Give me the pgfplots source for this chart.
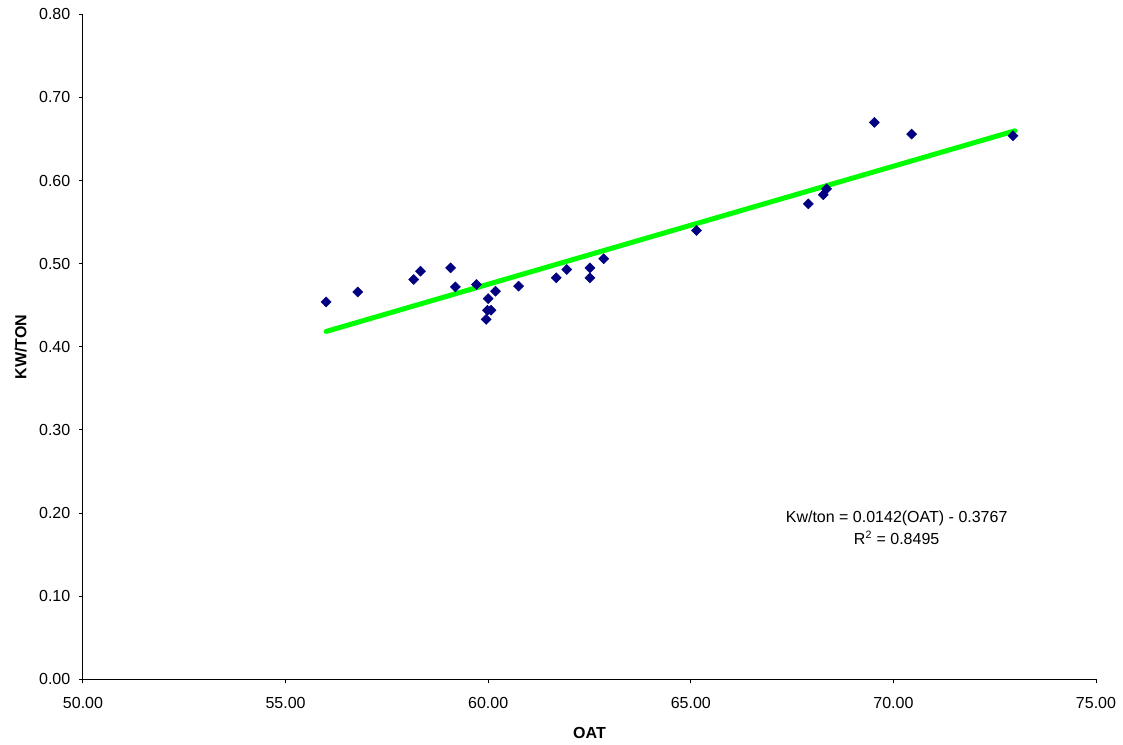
\documentclass[border=0pt]{standalone}
\usepackage{fontspec}
\setmainfont{Liberation Sans}
\usepackage{pgfplots}
\pgfplotsset{compat=1.18}

\definecolor{ptnavy}{RGB}{0,0,128}
\definecolor{trendgreen}{RGB}{0,255,0}

\begin{document}
\begin{tikzpicture}[x=1pt,y=1pt]
\begin{axis}[
  scale only axis,
  width=759.75pt, height=498.75pt,
  xmin=50, xmax=75, ymin=0, ymax=0.8,
  xtick={50,55,...,75},
  ytick={0,0.1,...,0.8},
  axis lines*=left,
  axis line style={black, line width=0.75pt},
  tick align=outside,
  major tick length=3pt,
  tick style={black, line width=0.75pt},
  /pgf/number format/assume math mode=true,
  /pgf/number format/.cd, fixed, fixed zerofill, precision=2, /pgfplots/.cd,
  ticklabel style={font=\fontsize{12}{14}\selectfont},
  yticklabel style={xshift=-3pt},
  xticklabel style={yshift=-7pt},
  scaled ticks=false,
  xlabel={\textbf{OAT}},
  ylabel={\textbf{KW/TON}},
  label style={font=\fontsize{12}{14}\selectfont},
  xlabel style={yshift=-7pt},
  ylabel style={yshift=2.5pt},
  clip=false,
]
% measured kW/ton against outside air temperature
\addplot[only marks, mark=square*, mark size=2.65pt,
  mark options={rotate=45, fill=ptnavy, draw=ptnavy}] coordinates {
  (56.00,0.454) (56.78,0.466) (58.16,0.481) (58.33,0.491)
  (59.07,0.495) (59.19,0.472) (59.71,0.475) (60.18,0.467)
  (60.00,0.458) (59.98,0.444) (60.07,0.444) (59.95,0.433)
  (60.75,0.473) (61.68,0.483) (61.94,0.493) (62.51,0.495)
  (62.51,0.483) (62.85,0.506) (65.14,0.540) (67.90,0.572)
  (68.27,0.583) (68.35,0.590) (69.53,0.670) (70.45,0.656)
  (72.95,0.654)
};
% linear trend line
\addplot[trendgreen, line width=3.75pt, line cap=round] coordinates {
  (56.00,0.4185) (73.00,0.6599)
};
\node[font=\fontsize{12}{14}\selectfont, anchor=base, inner sep=0pt]
  at (axis cs:70.08,0.1891) {Kw/ton = 0.0142(OAT) - 0.3767};
\node[font=\fontsize{12}{14}\selectfont, anchor=base, inner sep=0pt]
  at (axis cs:70.08,0.1627) {R\textsuperscript{2} = 0.8495};
\end{axis}
\pgfresetboundingbox
\path[use as bounding box] (current axis.south west) ++(-62.25pt,-49.25pt)
  rectangle ++(842.25pt,558.75pt);
\end{tikzpicture}
\end{document}
